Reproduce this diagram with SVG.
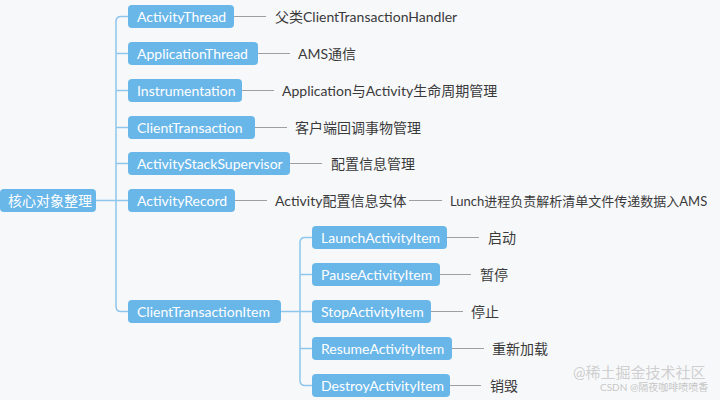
<svg xmlns="http://www.w3.org/2000/svg" width="720" height="400" viewBox="0 0 720 400">
<style>
.box{fill:#69b6e9;}
.bt{fill:#ffffff;font-family:Lato,"Noto Sans CJK SC",sans-serif;font-size:14px;}
.lt{fill:#3a3a3a;font-family:Lato,"Noto Sans CJK SC",sans-serif;font-size:14px;}
.lt.sm{font-size:13px;}
.tree{fill:none;stroke:#8ec6ec;stroke-width:1.5;}
.gl{fill:none;stroke:#a0a0a0;stroke-width:1;}
.wm{font-family:Lato,"Noto Sans CJK SC",sans-serif;}
</style>
<rect width="720" height="400" fill="#f7f8fa"/>
<g id="connectors">
<path class="tree" d="M96,200.5 H116"/>
<path class="tree" d="M128,16.5 H121 Q116,16.5 116,21.5 V306.5 Q116,311.5 121,311.5 H128"/>
<path class="tree" d="M116,53.5 H128 M116,90.5 H128 M116,127.5 H128 M116,163.5 H128 M116,200.5 H128"/>
<path class="tree" d="M281,311.5 H312"/>
<path class="tree" d="M312,237.5 H305 Q300,237.5 300,242.5 V380.5 Q300,385.5 305,385.5 H312"/>
<path class="tree" d="M300,274.5 H312 M300,348.5 H312"/>
<path class="gl" d="M234,16.5 H266 M258,53.5 H290 M242,90.5 H274 M255,127.5 H287 M290,163.5 H322 M235,200.5 H267 M409,200.5 H442"/>
<path class="gl" d="M447,237.5 H479 M440,274.5 H471 M431,311.5 H463 M452,348.5 H484 M450,385.5 H481"/>
</g>
<g id="root"><rect class="box" x="0" y="189" width="96" height="23" rx="4"/><text class="bt" x="8" y="205.5">核心对象整理</text></g>
<g id="n-activitythread"><rect class="box" x="128" y="5" width="106" height="23" rx="4"/><text class="bt" x="137" y="21.5">ActivityThread</text></g>
<g id="l-activitythread"><text class="lt" x="275" y="21.5">父类ClientTransactionHandler</text></g>
<g id="n-applicationthread"><rect class="box" x="128" y="42" width="130" height="23" rx="4"/><text class="bt" x="137" y="58.5">ApplicationThread</text></g>
<g id="l-applicationthread"><text class="lt" x="298" y="58.5">AMS通信</text></g>
<g id="n-instrumentation"><rect class="box" x="128" y="79" width="114" height="23" rx="4"/><text class="bt" x="137" y="95.5">Instrumentation</text></g>
<g id="l-instrumentation"><text class="lt" x="282" y="95.5">Application与Activity生命周期管理</text></g>
<g id="n-clienttransaction"><rect class="box" x="128" y="116" width="127" height="23" rx="4"/><text class="bt" x="137" y="132.5">ClientTransaction</text></g>
<g id="l-clienttransaction"><text class="lt" x="295" y="132.5">客户端回调事物管理</text></g>
<g id="n-activitystacksupervisor"><rect class="box" x="128" y="152" width="162" height="23" rx="4"/><text class="bt" x="137" y="168.5">ActivityStackSupervisor</text></g>
<g id="l-activitystacksupervisor"><text class="lt" x="331" y="168.5">配置信息管理</text></g>
<g id="n-activityrecord"><rect class="box" x="128" y="189" width="107" height="23" rx="4"/><text class="bt" x="137" y="205.5">ActivityRecord</text></g>
<g id="l-activityrecord"><text class="lt" x="275" y="205.5">Activity配置信息实体</text></g>
<g id="l-lunch"><text class="lt sm" x="450" y="205.5">Lunch进程负责解析清单文件传递数据入AMS</text></g>
<g id="n-clienttransactionitem"><rect class="box" x="128" y="300" width="153" height="23" rx="4"/><text class="bt" x="137" y="316.5">ClientTransactionItem</text></g>
<g id="n-launch"><rect class="box" x="312" y="226" width="135" height="23" rx="4"/><text class="bt" x="321" y="242.5">LaunchActivityItem</text></g>
<g id="l-launch"><text class="lt" x="488" y="242.5">启动</text></g>
<g id="n-pause"><rect class="box" x="312" y="263" width="128" height="23" rx="4"/><text class="bt" x="321" y="279.5">PauseActivityItem</text></g>
<g id="l-pause"><text class="lt" x="480" y="279.5">暂停</text></g>
<g id="n-stop"><rect class="box" x="312" y="300" width="119" height="23" rx="4"/><text class="bt" x="321" y="316.5">StopActivityItem</text></g>
<g id="l-stop"><text class="lt" x="471" y="316.5">停止</text></g>
<g id="n-resume"><rect class="box" x="312" y="337" width="140" height="23" rx="4"/><text class="bt" x="321" y="353.5">ResumeActivityItem</text></g>
<g id="l-resume"><text class="lt" x="492" y="353.5">重新加载</text></g>
<g id="n-destroy"><rect class="box" x="312" y="374" width="138" height="23" rx="4"/><text class="bt" x="321" y="390.5">DestroyActivityItem</text></g>
<g id="l-destroy"><text class="lt" x="490" y="390.5">销毁</text></g>
<g id="watermark">
<text class="wm" x="573" y="378" font-size="15" fill="#c4c4c4" fill-opacity="0.8">@稀土掘金技术社区</text>
<text class="wm" x="600" y="391" font-size="10" fill="#b8b8b8" fill-opacity="0.8">CSDN @隔夜咖啡喷喷香</text>
</g>
</svg>
